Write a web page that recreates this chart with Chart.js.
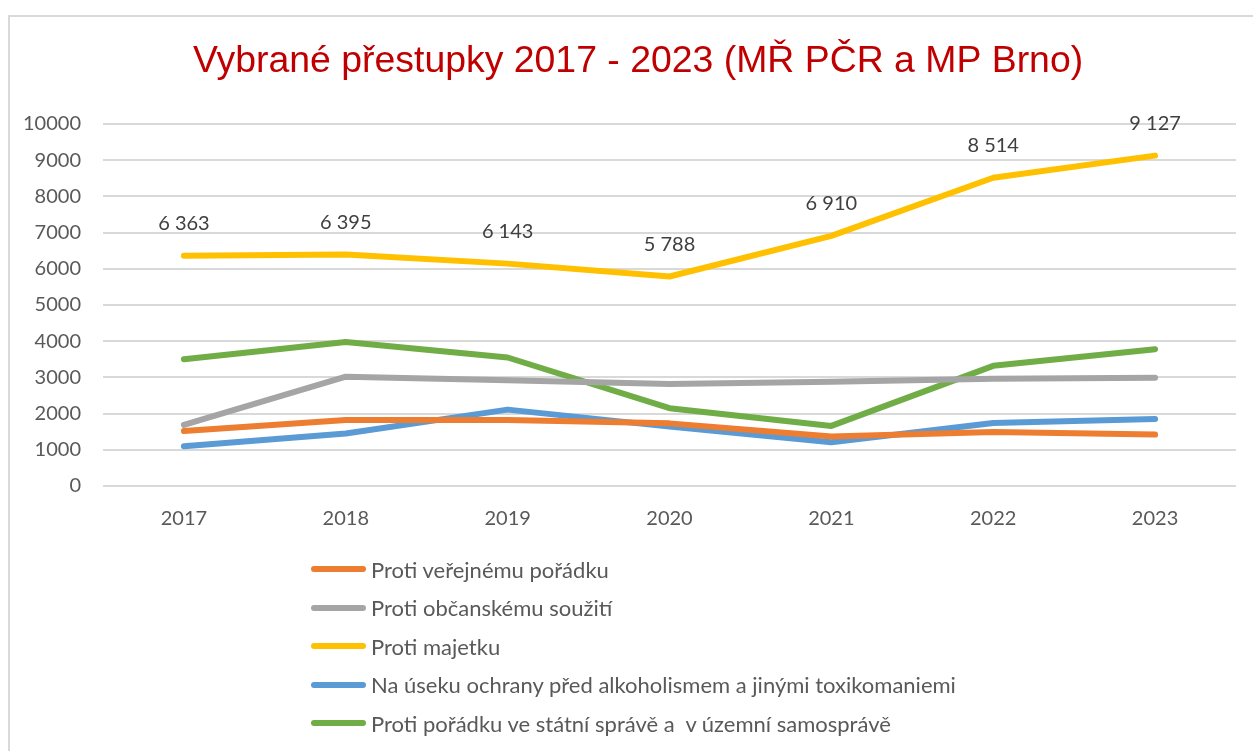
<!DOCTYPE html>
<html>
<head>
<meta charset="utf-8">
<script src="https://cdn.jsdelivr.net/npm/chart.js@4.4.1/dist/chart.umd.min.js"></script>
<style>
  html, body { margin: 0; padding: 0; background: #fff; }
  #wrap { position: relative; width: 1253px; height: 751px; overflow: hidden; }
  #frame { position: absolute; left: 8px; top: 15px; width: 1300px; height: 800px; border: 2px solid #D9D9D9; box-sizing: border-box; }
  #myChart { position: absolute; left: 0; top: 0; }
  #legend { position: absolute; left: 311px; top: 550px; font-family: Lato, sans-serif; font-size: 22px; color: #595959; }
  #legend .item { display: flex; align-items: center; height: 38.5px; }
  #legend .swatch { width: 55px; height: 6px; border-radius: 3px; margin-right: 5px; }
</style>
</head>
<body>
<div id="wrap">
  <div id="frame"></div>
  <canvas id="myChart" width="1253" height="751"></canvas>
  <div id="legend"></div>
</div>
<script>
const years = ['2017', '2018', '2019', '2020', '2021', '2022', '2023'];
const verejnyPoradek = [1520, 1820, 1820, 1730, 1370, 1490, 1420];
const obcanskeSouziti = [1690, 3020, 2920, 2820, 2880, 2960, 2990];
const majetek = [6363, 6395, 6143, 5788, 6910, 8514, 9127];
const alkoholismus = [1100, 1450, 2110, 1640, 1210, 1740, 1850];
const spravniPoradek = [3500, 3980, 3550, 2150, 1660, 3320, 3780];
const yTicks = [0, 1000, 2000, 3000, 4000, 5000, 6000, 7000, 8000, 9000, 10000];
const chartTitle = 'Vybrané přestupky 2017 - 2023 (MŘ PČR a MP Brno)';

const tickFont = { family: 'Lato, sans-serif', size: 20 };

// labels above the yellow series only, "6 363" style
const valueLabels = {
  id: 'valueLabels',
  afterDatasetsDraw(chart) {
    const { ctx } = chart;
    const meta = chart.getDatasetMeta(2);
    ctx.save();
    ctx.font = '20px Lato, sans-serif';
    ctx.fillStyle = '#404040';
    ctx.textAlign = 'center';
    ctx.textBaseline = 'middle';
    meta.data.forEach((pt, i) => {
      const txt = majetek[i].toLocaleString('en-US').replace(',', ' ');
      ctx.fillText(txt, pt.x, pt.y - 32);
    });
    ctx.restore();
  }
};

// title is off-centre in the original, so draw it by hand
const titleText = {
  id: 'titleText',
  afterDraw(chart) {
    const { ctx } = chart;
    ctx.save();
    ctx.font = '37.4px "Liberation Sans", Arial, sans-serif';
    ctx.fillStyle = '#C00000';
    ctx.textAlign = 'left';
    ctx.textBaseline = 'alphabetic';
    ctx.fillText(chartTitle, 193, 71.5);
    ctx.restore();
  }
};

const ctx = document.getElementById('myChart').getContext('2d');
const myChart = new Chart(ctx, {
  type: 'line',
  data: {
    labels: years,
    datasets: [
      { label: 'Proti veřejnému pořádku', data: verejnyPoradek, borderColor: '#ED7D31' },
      { label: 'Proti občanskému soužití', data: obcanskeSouziti, borderColor: '#A5A5A5' },
      { label: 'Proti majetku', data: majetek, borderColor: '#FFC000' },
      { label: 'Na úseku ochrany před alkoholismem a jinými toxikomaniemi', data: alkoholismus, borderColor: '#5B9BD5' },
      { label: 'Proti pořádku ve státní správě a  v územní samosprávě', data: spravniPoradek, borderColor: '#70AD47' },
    ],
  },
  options: {
    responsive: false,
    animation: false,
    layout: { padding: { top: 124, left: 1, right: 17, bottom: 199 } },
    elements: {
      line: { borderWidth: 6, borderCapStyle: 'round', borderJoinStyle: 'round', tension: 0 },
      point: { radius: 0, hoverRadius: 0 },
    },
    scales: {
      x: {
        offset: true,
        grid: { display: false, drawTicks: false },
        border: { display: false },
        ticks: { font: tickFont, color: '#595959', padding: 21 },
      },
      y: {
        min: 0,
        max: 10000,
        afterBuildTicks: (axis) => { axis.ticks = yTicks.map(v => ({ value: v })); },
        grid: { color: '#D9D9D9', lineWidth: 2, drawTicks: false },
        border: { display: false },
        ticks: { font: tickFont, color: '#595959', padding: 22, callback: (v) => String(v) },
      },
    },
    plugins: {
      legend: { display: false },
      tooltip: { enabled: false },
      title: { display: false },
    },
  },
  plugins: [valueLabels, titleText],
});

// legend as a vertical list like the original
const legendEl = document.getElementById('legend');
myChart.data.datasets.forEach(ds => {
  const item = document.createElement('div');
  item.className = 'item';
  const sw = document.createElement('span');
  sw.className = 'swatch';
  sw.style.background = ds.borderColor;
  const txt = document.createElement('span');
  txt.textContent = ds.label;
  txt.style.whiteSpace = 'pre';
  item.appendChild(sw);
  item.appendChild(txt);
  legendEl.appendChild(item);
});
</script>
</body>
</html>
